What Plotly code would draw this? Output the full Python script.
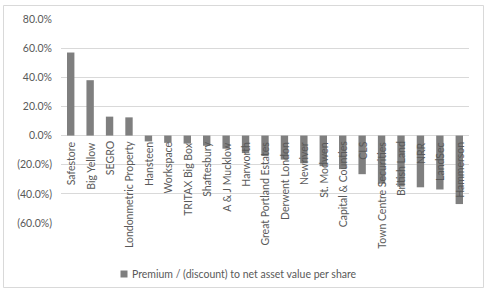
import plotly.graph_objects as go

companies = ["Safestore", "Big Yellow", "SEGRO", "Londonmetric Property", "Hansteen",
             "Workspace", "TRITAX Big Box", "Shaftesbury", "A & J Mucklow", "Harworth",
             "Great Portland Estates", "Derwent London", "Newriver", "St. Modwen",
             "Capital & Counties", "CLS", "Town Centre Securities", "British Land",
             "NRR", "LandSec", "Hammerson"]
premium = [57.0, 38.0, 13.0, 12.5, -4.0, -5.0, -5.5, -7.0, -9.0, -12.0,
           -14.0, -16.5, -19.0, -21.0, -23.0, -26.5, -33.0, -35.0, -35.5, -37.0, -47.0]
tick_vals = [80, 60, 40, 20, 0, -20, -40, -60]
tick_text = ["80.0%", "60.0%", "40.0%", "20.0%", "0.0%", "(20.0%)", "(40.0%)", "(60.0%)"]
legend_label = "Premium / (discount) to net asset value per share"

FONT = "Lato, 'Open Sans', sans-serif"
GREY_TXT = "#595959"
BAR = "#7f7f7f"
GRID = "#d9d9d9"

W, H = 488, 289
ML, MR, MT, MB = 61, 19, 19, 66
PW, PH = W - ML - MR, H - MT - MB

def px(x):
    return (x - ML) / PW

def py(y):
    return (H - MB - y) / PH

fig = go.Figure()
fig.add_trace(go.Bar(x=companies, y=premium, marker=dict(color=BAR, line=dict(width=0)),
                     name=legend_label, showlegend=False))

annotations = []
for c in companies:
    annotations.append(dict(x=c, y=0, xref="x", yref="y", text=c, showarrow=False,
                            textangle=-90, xanchor="center", yanchor="top", yshift=-4,
                            font=dict(family=FONT, size=10.5, color=GREY_TXT)))
annotations.append(dict(x=px(130), y=py(274), xref="paper", yref="paper", text=legend_label,
                        showarrow=False, xanchor="left", yanchor="middle",
                        font=dict(family=FONT, size=10.5, color=GREY_TXT)))

shapes = [
    dict(type="rect", xref="paper", yref="paper", x0=px(3.5), x1=px(483.5), y0=py(287.5), y1=py(5.5),
         line=dict(color=GRID, width=1), fillcolor="rgba(0,0,0,0)", layer="below"),
    dict(type="rect", xref="paper", yref="paper", x0=px(120.5), x1=px(127.5), y0=py(277.5), y1=py(270.5),
         line=dict(width=0), fillcolor=BAR),
]

fig.update_layout(
    width=W, height=H,
    margin=dict(l=ML, r=MR, t=MT, b=MB),
    paper_bgcolor="white", plot_bgcolor="white",
    bargap=0.62,
    font=dict(family=FONT, size=10.5, color=GREY_TXT),
    annotations=annotations,
    shapes=shapes,
    showlegend=False,
)
fig.update_xaxes(showticklabels=False, showgrid=False, showline=False, zeroline=False, ticks="")
fig.update_yaxes(range=[-60, 80], tickvals=tick_vals, ticktext=tick_text, showgrid=True,
                 gridcolor=GRID, gridwidth=1, zeroline=True, zerolinecolor=GRID, zerolinewidth=1,
                 showline=False, ticks="", ticklabelstandoff=8,
                 tickfont=dict(family=FONT, size=10.5, color=GREY_TXT))

fig.write_html("out.html")
